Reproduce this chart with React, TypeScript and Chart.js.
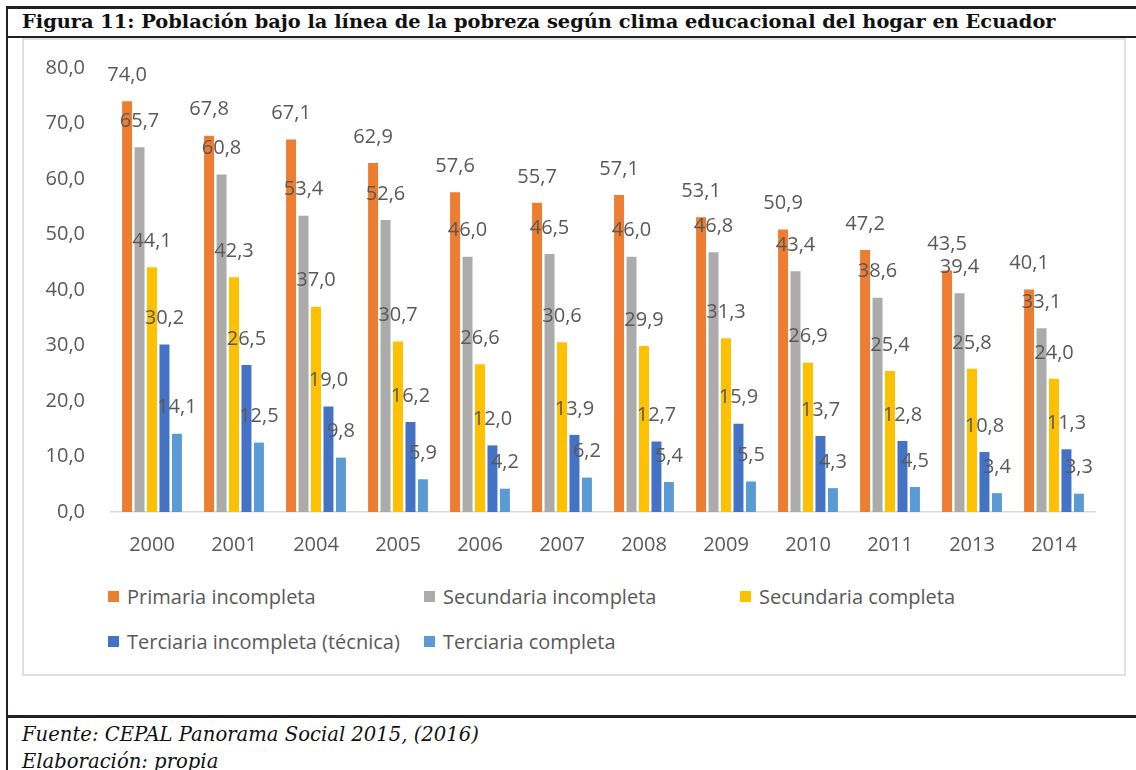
import React, { useEffect, useRef } from "react";
import { Chart, registerables } from "chart.js";

Chart.register(...registerables);

const titleText = "Figura 11: Población bajo la línea de la pobreza según clima educacional del hogar en Ecuador";
const sourceText = "Fuente: CEPAL Panorama Social 2015, (2016)";
const authorText = "Elaboración: propia";

const categories = ["2000", "2001", "2004", "2005", "2006", "2007", "2008", "2009", "2010", "2011", "2013", "2014"];
const seriesNames = [
  "Primaria incompleta",
  "Secundaria incompleta",
  "Secundaria completa",
  "Terciaria incompleta (técnica)",
  "Terciaria completa",
];
const primariaIncompleta = [74.0, 67.8, 67.1, 62.9, 57.6, 55.7, 57.1, 53.1, 50.9, 47.2, 43.5, 40.1];
const secundariaIncompleta = [65.7, 60.8, 53.4, 52.6, 46.0, 46.5, 46.0, 46.8, 43.4, 38.6, 39.4, 33.1];
const secundariaCompleta = [44.1, 42.3, 37.0, 30.7, 26.6, 30.6, 29.9, 31.3, 26.9, 25.4, 25.8, 24.0];
const terciariaIncompleta = [30.2, 26.5, 19.0, 16.2, 12.0, 13.9, 12.7, 15.9, 13.7, 12.8, 10.8, 11.3];
const terciariaCompleta = [14.1, 12.5, 9.8, 5.9, 4.2, 6.2, 5.4, 5.5, 4.3, 4.5, 3.4, 3.3];
const seriesValues = [primariaIncompleta, secundariaIncompleta, secundariaCompleta, terciariaIncompleta, terciariaCompleta];
const seriesColors = ["#ED7D31", "#ABABAB", "#FFC000", "#4472C4", "#5B9BD5"];
const yMin = 0;
const yMax = 80;
const yStep = 10;

const fmt = (v: number) => v.toFixed(1).replace(".", ",");
const FONT = '"Open Sans", "Noto Sans", sans-serif';
const TEXT_GREY = "#595959";

const dataLabelPlugin = {
  id: "barValueLabels",
  afterDatasetsDraw(chart: any) {
    const ctx = chart.ctx;
    ctx.save();
    ctx.font = `20px ${FONT}`;
    ctx.fillStyle = TEXT_GREY;
    ctx.textAlign = "center";
    ctx.textBaseline = "middle";
    chart.data.datasets.forEach((ds: any, i: number) => {
      const meta = chart.getDatasetMeta(i);
      meta.data.forEach((el: any, j: number) => {
        ctx.fillText(fmt(ds.data[j]), el.x, el.y - 26);
      });
    });
    ctx.restore();
  },
};

export default function App() {
  const canvasRef = useRef<HTMLCanvasElement | null>(null);

  useEffect(() => {
    if (!canvasRef.current) return;
    const chart = new Chart(canvasRef.current, {
      type: "bar",
      data: {
        labels: categories,
        datasets: seriesNames.map((name, i) => ({
          label: name,
          data: seriesValues[i],
          backgroundColor: seriesColors[i],
          borderWidth: 0,
          categoryPercentage: 0.76,
          barPercentage: 0.8,
        })),
      },
      options: {
        animation: false,
        responsive: true,
        maintainAspectRatio: false,
        layout: { padding: { top: 28, right: 30, bottom: 0, left: 0 } },
        plugins: {
          legend: { display: false },
          tooltip: { enabled: false },
          title: { display: false },
        },
        scales: {
          x: {
            grid: { display: false, drawTicks: false },
            border: { display: true, color: "#D9D9D9", width: 1.5 },
            ticks: { color: TEXT_GREY, font: { family: FONT, size: 20 }, padding: 21 },
            afterFit: (scale: any) => {
              scale.height = 58;
            },
          },
          y: {
            min: yMin,
            max: yMax,
            ticks: {
              stepSize: yStep,
              color: TEXT_GREY,
              font: { family: FONT, size: 20 },
              padding: 26,
              callback: (v: any) => fmt(Number(v)),
            },
            grid: { display: false, drawTicks: false },
            border: { display: false },
            afterFit: (scale: any) => {
              scale.width = 87;
              scale.paddingTop = 0;
              scale.paddingBottom = 0;
            },
          },
        },
      },
      plugins: [dataLabelPlugin],
    });
    return () => chart.destroy();
  }, []);

  const lineColor = "#231F20";

  return (
    <div style={{ position: "absolute", left: 0, top: 0, width: 1136, height: 770, overflow: "hidden", background: "#fff" }}>
      {/* frame lines */}
      <div style={{ position: "absolute", left: 6, top: 6, width: 1130, height: 3, background: lineColor }} />
      <div style={{ position: "absolute", left: 6, top: 36, width: 1130, height: 2, background: lineColor }} />
      <div style={{ position: "absolute", left: 6, top: 6, width: 2, height: 764, background: lineColor }} />
      <div style={{ position: "absolute", left: 6, top: 715, width: 1130, height: 3, background: lineColor }} />

      {/* title */}
      <div
        style={{
          position: "absolute",
          left: 22,
          top: 10,
          fontFamily: '"DejaVu Serif", serif',
          fontWeight: "bold",
          fontSize: 19.4,
          color: "#111",
          whiteSpace: "nowrap",
          lineHeight: "normal",
        }}
      >
        {titleText}
      </div>

      {/* chart box */}
      <div
        style={{
          position: "absolute",
          left: 22,
          top: 38,
          width: 1100,
          height: 634,
          border: "2px solid #E0E0E0",
          background: "#fff",
        }}
      >
        <div style={{ position: "absolute", left: 0, top: 0, width: 1101, height: 530 }}>
          <canvas ref={canvasRef} />
        </div>
        {/* legend */}
        {seriesNames.map((name, i) => {
          const col = i < 3 ? i : i - 3;
          const row = i < 3 ? 0 : 1;
          const x = 108 + col * 316 - 24;
          const y = 597 + row * 45 - 41;
          return (
            <div
              key={name}
              style={{
                position: "absolute",
                left: x,
                top: y - 14,
                height: 28,
                display: "flex",
                alignItems: "center",
                whiteSpace: "nowrap",
                fontFamily: FONT,
                fontSize: 20,
                color: TEXT_GREY,
              }}
            >
              <span style={{ display: "inline-block", width: 11, height: 11, background: seriesColors[i], marginRight: 8 }} />
              <span>{name}</span>
            </div>
          );
        })}
      </div>

      {/* footer */}
      <div
        style={{
          position: "absolute",
          left: 22,
          top: 721,
          fontFamily: '"DejaVu Serif", serif',
          fontStyle: "italic",
          fontSize: 19.6,
          color: "#111",
          lineHeight: "27px",
          whiteSpace: "nowrap",
        }}
      >
        <div>{sourceText}</div>
        <div>{authorText}</div>
      </div>
    </div>
  );
}
